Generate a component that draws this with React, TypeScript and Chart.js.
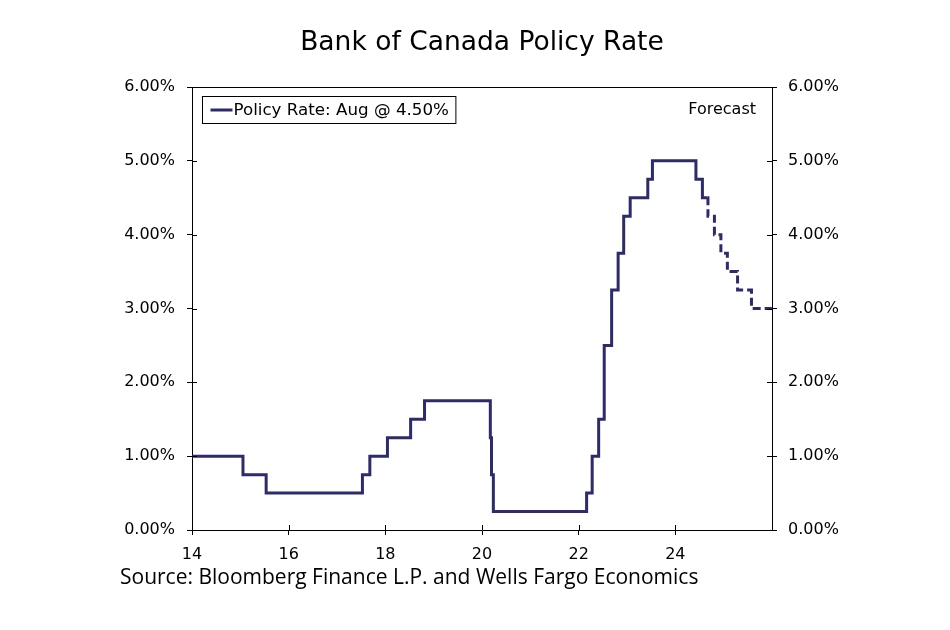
import React, { useEffect, useRef } from "react";
import { Chart, registerables } from "chart.js";

Chart.register(...registerables);

// ---- Data ----
const TITLE = "Bank of Canada Policy Rate";
const SOURCE = "Source: Bloomberg Finance L.P. and Wells Fargo Economics";
const LEGEND_LABEL = "Policy Rate: Aug @ 4.50%";
const FORECAST_LABEL = "Forecast";

const actualDates = [
  "2014-01-01", "2015-01-21", "2015-07-15", "2017-07-12", "2017-09-06",
  "2018-01-17", "2018-07-11", "2018-10-24", "2020-03-04", "2020-03-13",
  "2020-03-27", "2022-03-02", "2022-04-13", "2022-06-01", "2022-07-13",
  "2022-09-07", "2022-10-26", "2022-12-07", "2023-01-25", "2023-06-07",
  "2023-07-12", "2024-06-05", "2024-07-24", "2024-08-31",
];
const actualRates = [
  1.0, 0.75, 0.5, 0.75, 1.0,
  1.25, 1.5, 1.75, 1.25, 0.75,
  0.25, 0.5, 1.0, 1.5, 2.5,
  3.25, 3.75, 4.25, 4.5, 4.75,
  5.0, 4.75, 4.5, 4.5,
];

const forecastDates = [
  "2024-08-31", "2024-09-04", "2024-10-23", "2024-12-11",
  "2025-01-29", "2025-04-16", "2025-07-30", "2025-12-31",
];
const forecastRates = [4.5, 4.25, 4.0, 3.75, 3.5, 3.25, 3.0, 3.0];

const xTickYears = [2014, 2016, 2018, 2020, 2022, 2024];
const yTicks = [0, 1, 2, 3, 4, 5, 6];

// ---- helpers ----
function toYear(s: string): number {
  const [y, m, d] = s.split("-").map(Number);
  const start = Date.UTC(y, 0, 1);
  const end = Date.UTC(y + 1, 0, 1);
  return y + (Date.UTC(y, m - 1, d) - start) / (end - start);
}

const LINE_COLOR = "#2d2b6b";
const AXIS_FONT = "'DejaVu Sans', Verdana, sans-serif";

const framePlugin = {
  id: "frame",
  afterDraw(chart: any) {
    const { ctx, chartArea } = chart;
    const { left, right, top, bottom } = chartArea;
    ctx.save();
    ctx.strokeStyle = "#000";
    ctx.lineWidth = 1;
    // top border
    ctx.beginPath();
    ctx.moveTo(left, top + 0.5);
    ctx.lineTo(right, top + 0.5);
    ctx.stroke();
    // inward ticks
    const y = chart.scales.y;
    const y2 = chart.scales.y2;
    const x = chart.scales.x;
    ctx.beginPath();
    y.ticks.forEach((t: any) => {
      const p = Math.round(y.getPixelForValue(t.value)) + 0.5;
      ctx.moveTo(left, p);
      ctx.lineTo(left + 5, p);
    });
    y2.ticks.forEach((t: any) => {
      const p = Math.round(y2.getPixelForValue(t.value)) + 0.5;
      ctx.moveTo(right - 5, p);
      ctx.lineTo(right, p);
    });
    x.ticks.forEach((t: any) => {
      const p = Math.round(x.getPixelForValue(t.value)) + 0.5;
      ctx.moveTo(p, bottom - 5);
      ctx.lineTo(p, bottom);
    });
    ctx.stroke();

    // legend box
    const bx = left + 10.5;
    const by = top + 9.5;
    ctx.font = `16.7px ${AXIS_FONT}`;
    const tw = ctx.measureText(LEGEND_LABEL).width;
    const bw = 8 + 22 + 1 + tw + 7;
    const bh = 27;
    ctx.fillStyle = "#fff";
    ctx.fillRect(bx, by, bw, bh);
    ctx.strokeStyle = "#000";
    ctx.lineWidth = 1;
    ctx.strokeRect(bx, by, bw, bh);
    ctx.strokeStyle = LINE_COLOR;
    ctx.lineWidth = 3;
    ctx.beginPath();
    ctx.moveTo(bx + 8, by + bh / 2);
    ctx.lineTo(bx + 30, by + bh / 2);
    ctx.stroke();
    ctx.fillStyle = "#000";
    ctx.textBaseline = "middle";
    ctx.textAlign = "left";
    ctx.fillText(LEGEND_LABEL, bx + 31, by + bh / 2 + 1);

    // Forecast text
    ctx.font = `16px ${AXIS_FONT}`;
    ctx.textAlign = "right";
    ctx.fillText(FORECAST_LABEL, right - 16, top + 23);

    // title
    ctx.font = `26.5px ${AXIS_FONT}`;
    ctx.textAlign = "center";
    ctx.textBaseline = "alphabetic";
    ctx.fillText(TITLE, (left + right) / 2, 50);

    // source
    ctx.font = `21px 'Open Sans', sans-serif`;
    ctx.textAlign = "left";
    ctx.fillText(SOURCE, 120, 584);
    ctx.restore();
  },
};

export default function App() {
  const canvasRef = useRef<HTMLCanvasElement | null>(null);

  useEffect(() => {
    if (!canvasRef.current) return;
    const actual = actualDates.map((d, i) => ({ x: toYear(d), y: actualRates[i] }));
    const forecast = forecastDates.map((d, i) => ({ x: toYear(d), y: forecastRates[i] }));

    const tickFont = { family: AXIS_FONT, size: 16 };

    const chart = new Chart(canvasRef.current, {
      type: "line",
      data: {
        datasets: [
          {
            label: LEGEND_LABEL,
            data: actual,
            borderColor: LINE_COLOR,
            borderWidth: 3,
            pointRadius: 0,
            stepped: "before",
            fill: false,
            borderJoinStyle: "miter",
            yAxisID: "y",
          },
          {
            label: FORECAST_LABEL,
            data: forecast,
            borderColor: LINE_COLOR,
            borderWidth: 3,
            borderDash: [8, 4],
            pointRadius: 0,
            stepped: "before",
            fill: false,
            borderJoinStyle: "miter",
            yAxisID: "y",
          },
        ],
      },
      options: {
        responsive: false,
        animation: false,
        layout: { padding: { top: 87, left: 0, right: 0, bottom: 0 } },
        plugins: {
          legend: { display: false },
          title: { display: false },
          tooltip: { enabled: false },
        },
        scales: {
          x: {
            type: "linear",
            min: 2014,
            max: 2026,
            afterBuildTicks: (scale: any) => {
              scale.ticks = xTickYears.map((v) => ({ value: v }));
            },
            ticks: {
              font: tickFont,
              color: "#000",
              padding: 10,
              maxRotation: 0,
              callback: (v: any) => String(Math.round(Number(v)) % 100).padStart(2, "0"),
            },
            grid: {
              drawOnChartArea: false,
              drawTicks: true,
              tickLength: 5,
              color: "#000",
            },
            border: { display: true, color: "#000", width: 1 },
            afterFit: (scale: any) => {
              scale.height = 100;
            },
          },
          y: {
            type: "linear",
            position: "left",
            min: 0,
            max: 6,
            afterBuildTicks: (scale: any) => {
              scale.ticks = yTicks.map((v) => ({ value: v }));
            },
            ticks: {
              font: tickFont,
              color: "#000",
              padding: 12,
              callback: (v: any) => `${Number(v).toFixed(2)}%`,
            },
            grid: {
              drawOnChartArea: false,
              drawTicks: true,
              tickLength: 5,
              color: "#000",
            },
            border: { display: true, color: "#000", width: 1 },
            afterFit: (scale: any) => {
              scale.width = 192;
            },
          },
          y2: {
            type: "linear",
            position: "right",
            min: 0,
            max: 6,
            afterBuildTicks: (scale: any) => {
              scale.ticks = yTicks.map((v) => ({ value: v }));
            },
            ticks: {
              font: tickFont,
              color: "#000",
              padding: 11,
              callback: (v: any) => `${Number(v).toFixed(2)}%`,
            },
            grid: {
              drawOnChartArea: false,
              drawTicks: true,
              tickLength: 5,
              color: "#000",
            },
            border: { display: true, color: "#000", width: 1 },
            afterFit: (scale: any) => {
              scale.width = 178;
            },
          },
        },
      } as any,
      plugins: [framePlugin],
    });
    return () => chart.destroy();
  }, []);

  return (
    <div style={{ position: "absolute", left: 0, top: 0, width: 950, height: 630, background: "#fff" }}>
      <canvas ref={canvasRef} width={950} height={630} />
    </div>
  );
}
